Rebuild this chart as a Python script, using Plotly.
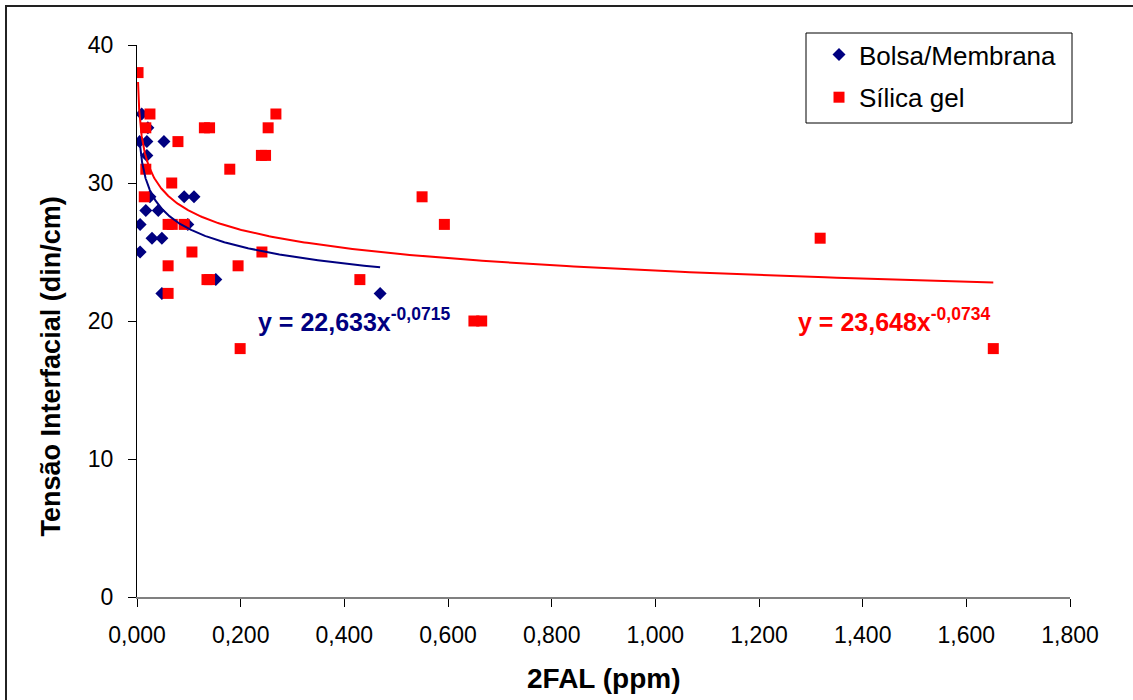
import numpy as np
import plotly.graph_objects as go

# Bolsa/Membrana samples: 2FAL (ppm) vs interfacial tension (din/cm)
bolsa_x = [0.005, 0.009, 0.021, 0.019, 0.052, 0.019, 0.025, 0.091, 0.110, 0.017,
           0.041, 0.006, 0.098, 0.029, 0.048, 0.006, 0.152, 0.048, 0.469]
bolsa_y = [33, 35, 34, 33, 33, 32, 29, 29, 29, 28,
           28, 27, 27, 26, 26, 25, 23, 22, 22]

# Sílica gel samples
silica_x = [0.002, 0.025, 0.017, 0.079, 0.130, 0.140, 0.268, 0.253, 0.240, 0.248,
            0.179, 0.017, 0.067, 0.014, 0.060, 0.068, 0.091, 0.106, 0.241, 0.060,
            0.195, 0.135, 0.140, 0.060, 0.550, 0.593, 0.430, 0.650, 0.665, 0.199,
            1.318, 1.652]
silica_y = [38, 35, 34, 33, 34, 34, 35, 34, 32, 32,
            31, 31, 30, 29, 27, 27, 27, 25, 25, 24,
            24, 23, 23, 22, 29, 27, 23, 20, 20, 18,
            26, 18]

# Power-law fits y = a * x^b
bolsa_fit = (22.633, -0.0715)
silica_fit = (23.648, -0.0734)

NAVY = "#000080"
RED = "#FF0000"
FONT = "Liberation Sans, Arial, sans-serif"


def fit_curve(xs, coef):
    a, b = coef
    xx = np.geomspace(min(xs), max(xs), 400)
    return xx, a * xx ** b


def fmt(v, nd):
    return f"{v:.{nd}f}".replace(".", ",")


fig = go.Figure()

fig.add_trace(go.Scatter(
    x=bolsa_x, y=bolsa_y, mode="markers", name="Bolsa/Membrana",
    legendgroup="a",
    marker=dict(symbol="diamond", size=10, color=NAVY, line=dict(width=0)),
))
fig.add_trace(go.Scatter(
    x=silica_x, y=silica_y, mode="markers", name="Sílica gel",
    legendgroup="b",
    marker=dict(symbol="square", size=11, color=RED, line=dict(width=0)),
))

bx, by = fit_curve(bolsa_x, bolsa_fit)
sx, sy = fit_curve(silica_x, silica_fit)
fig.add_trace(go.Scatter(x=bx, y=by, mode="lines", showlegend=False,
                         line=dict(color=NAVY, width=2), hoverinfo="skip"))
fig.add_trace(go.Scatter(x=sx, y=sy, mode="lines", showlegend=False,
                         line=dict(color=RED, width=2), hoverinfo="skip"))

# Fit equations
eq_font = dict(family=FONT, size=25)
fig.add_annotation(
    x=0.2300, y=20.1, xref="x", yref="y", xanchor="left", yanchor="middle",
    showarrow=False,
    text=f"<b>y = {fmt(bolsa_fit[0], 3)}x<sup>{fmt(bolsa_fit[1], 4)}</sup></b>",
    font=dict(color=NAVY, **eq_font),
)
fig.add_annotation(
    x=1.272, y=20.1, xref="x", yref="y", xanchor="left", yanchor="middle",
    showarrow=False,
    text=f"<b>y = {fmt(silica_fit[0], 3)}x<sup>{fmt(silica_fit[1], 4)}</sup></b>",
    font=dict(color=RED, **eq_font),
)

# Axis titles
fig.add_annotation(
    x=-0.092, y=0.418, xref="paper", yref="paper", textangle=-90,
    xanchor="center", yanchor="middle",
    showarrow=False, text="<b>Tensão Interfacial (din/cm)</b>",
    font=dict(family=FONT, size=27, color="black"),
)
fig.add_annotation(
    x=0.5, y=-0.148, xref="paper", yref="paper",
    xanchor="center", yanchor="middle",
    showarrow=False, text="<b>2FAL (ppm)</b>",
    font=dict(family=FONT, size=28, color="black"),
)

# Outer chart frame
fig.add_shape(type="rect", xref="paper", yref="paper",
              x0=-0.1404, x1=1.08, y0=-0.21, y1=1.0707,
              line=dict(color="#222222", width=2), fillcolor="rgba(0,0,0,0)")
# Legend frame
fig.add_shape(type="rect", xref="paper", yref="paper",
              x0=(806 - 137) / 933, x1=(1072 - 137) / 933,
              y0=(597 - 123) / 552, y1=(597 - 33) / 552,
              line=dict(color="black", width=1), fillcolor="white", layer="below")

fig.update_layout(
    width=1133, height=700,
    margin=dict(l=137, r=63, t=45, b=103),
    paper_bgcolor="white", plot_bgcolor="white",
    separators=",.",
    font=dict(family=FONT, color="black"),
    showlegend=True,
    legend=dict(
        x=(819 - 137) / 933, y=(597 - 31) / 552, xanchor="left", yanchor="top",
        bgcolor="rgba(0,0,0,0)", borderwidth=0,
        font=dict(family=FONT, size=26, color="black"),
        tracegroupgap=6, itemwidth=30,
    ),
    xaxis=dict(
        range=[0, 1.8], dtick=0.2, tick0=0, tickformat=".3f",
        showgrid=False, zeroline=False,
        showline=True, linecolor="#808080", linewidth=2,
        ticks="outside", ticklen=8, tickcolor="black", tickwidth=1,
        ticklabelstandoff=8,
        tickfont=dict(family=FONT, size=23, color="black"),
    ),
    yaxis=dict(
        range=[0, 40], dtick=10, tick0=0,
        showgrid=False, zeroline=False,
        showline=True, linecolor="black", linewidth=1,
        ticks="outside", ticklen=8, tickcolor="black", tickwidth=1,
        ticklabelstandoff=10,
        tickfont=dict(family=FONT, size=23, color="black"),
    ),
)

fig.write_html("out.html")
